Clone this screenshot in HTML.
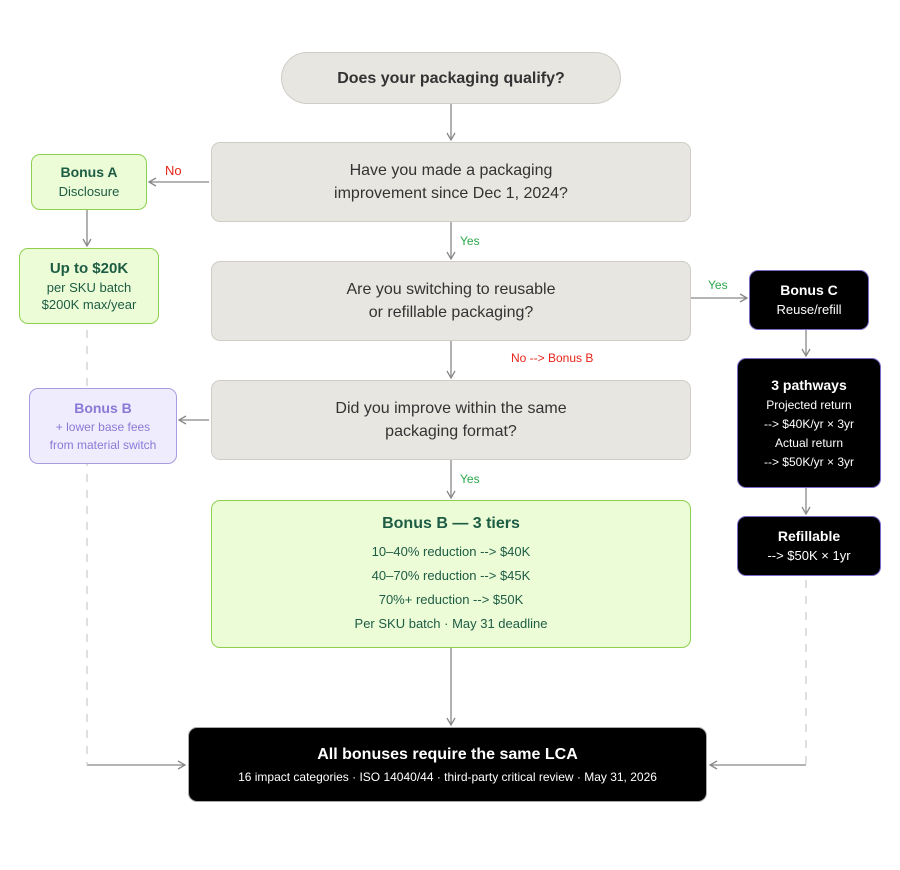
<!DOCTYPE html>
<html><head><style>
body{margin:0;width:900px;height:870px;background:#fff;font-family:"Liberation Sans",sans-serif;position:relative;overflow:hidden}
.b{position:absolute;box-sizing:border-box;display:flex;flex-direction:column;align-items:center;justify-content:center;text-align:center}
.g{background:#e8e6e0;border:1.5px solid #cfcdc6;border-radius:9px;color:#333;font-size:16px;line-height:23px}
.gr{background:#ebfcd7;border:1.5px solid #8fd14f;border-radius:9px;color:#1e5c44}
.k{background:#000;border:1.5px solid #7b68c8;border-radius:9px;color:#fff}
.t{position:absolute;font-size:12px}
svg{position:absolute;left:0;top:0}
</style></head><body>
<svg width="900" height="870">
<defs><marker id="a" markerWidth="10" markerHeight="10" refX="8" refY="5" orient="auto" markerUnits="userSpaceOnUse"><path d="M1,1 L8,5 L1,9" fill="none" stroke="#888" stroke-width="1.3"/></marker></defs>
<g stroke="#888" stroke-width="1.3" fill="none">
<line x1="451" y1="104" x2="451" y2="140" marker-end="url(#a)"/>
<line x1="209" y1="182" x2="149" y2="182" marker-end="url(#a)"/>
<line x1="451" y1="222" x2="451" y2="259" marker-end="url(#a)"/>
<line x1="451" y1="341" x2="451" y2="378" marker-end="url(#a)"/>
<line x1="209" y1="420" x2="179" y2="420" marker-end="url(#a)"/>
<line x1="451" y1="460" x2="451" y2="498" marker-end="url(#a)"/>
<line x1="451" y1="648" x2="451" y2="725" marker-end="url(#a)"/>
<line x1="691" y1="298" x2="747" y2="298" marker-end="url(#a)"/>
<line x1="806" y1="330" x2="806" y2="356" marker-end="url(#a)"/>
<line x1="806" y1="488" x2="806" y2="514" marker-end="url(#a)"/>
<line x1="87" y1="210" x2="87" y2="246" marker-end="url(#a)"/>
<line x1="87" y1="765" x2="185" y2="765" marker-end="url(#a)"/>
<line x1="806" y1="765" x2="710" y2="765" marker-end="url(#a)"/>
</g>
<g stroke="#ccc" stroke-width="1.2" stroke-dasharray="8,8">
<line x1="87" y1="330" x2="87" y2="765"/>
<line x1="806" y1="580" x2="806" y2="765"/>
</g>
</svg>
<div class="b g" style="left:281px;top:52px;width:340px;height:52px;border-radius:26px;font-weight:bold;color:#333">Does your packaging qualify?</div>
<div class="b g" style="left:211px;top:142px;width:480px;height:80px">Have you made a packaging<br>improvement since Dec 1, 2024?</div>
<div class="b g" style="left:211px;top:261px;width:480px;height:80px">Are you switching to reusable<br>or refillable packaging?</div>
<div class="b g" style="left:211px;top:380px;width:480px;height:80px">Did you improve within the same<br>packaging format?</div>
<div class="b gr" style="left:211px;top:500px;width:480px;height:148px;font-size:13px;line-height:24px">
<div style="font-size:16px;font-weight:bold;margin-bottom:4px">Bonus B — 3 tiers</div>
<div>10–40% reduction --&gt; $40K</div><div>40–70% reduction --&gt; $45K</div><div>70%+ reduction --&gt; $50K</div><div>Per SKU batch · May 31 deadline</div></div>
<div class="b gr" style="left:31px;top:154px;width:116px;height:56px;font-size:13px;line-height:19px"><b style="font-size:14px">Bonus A</b>Disclosure</div>
<div class="b gr" style="left:19px;top:248px;width:140px;height:76px;font-size:13px;line-height:17px"><b style="font-size:15px;line-height:20px">Up to $20K</b>per SKU batch<br>$200K max/year</div>
<div class="b" style="left:29px;top:388px;width:148px;height:76px;background:#efedfd;border:1.5px solid #a99be0;border-radius:9px;color:#8b78d6;font-size:12px;line-height:18px"><b style="font-size:14px;line-height:20px">Bonus B</b>+ lower base fees<br>from material switch</div>
<div class="b k" style="left:749px;top:270px;width:120px;height:60px;font-size:13px;line-height:20px"><b style="font-size:14px">Bonus C</b>Reuse/refill</div>
<div class="b k" style="left:737px;top:358px;width:144px;height:130px;font-size:12px;line-height:19px"><b style="font-size:14px;line-height:22px">3 pathways</b>Projected return<br>--&gt; $40K/yr × 3yr<br>Actual return<br>--&gt; $50K/yr × 3yr</div>
<div class="b k" style="left:737px;top:516px;width:144px;height:60px;font-size:13px;line-height:20px"><b style="font-size:14px">Refillable</b>--&gt; $50K × 1yr</div>
<div class="b k" style="left:188px;top:727px;width:519px;height:75px;border-color:#aaa;font-size:12px;line-height:20px"><b style="font-size:16px;line-height:24px">All bonuses require the same LCA</b>16 impact categories · ISO 14040/44 · third-party critical review · May 31, 2026</div>
<div class="t" style="left:165px;top:163px;color:#e8241a;font-size:13px">No</div>
<div class="t" style="left:460px;top:234px;color:#2aa84a">Yes</div>
<div class="t" style="left:511px;top:351px;color:#e8241a">No --&gt; Bonus B</div>
<div class="t" style="left:460px;top:472px;color:#2aa84a">Yes</div>
<div class="t" style="left:708px;top:278px;color:#2aa84a">Yes</div>
</body></html>
